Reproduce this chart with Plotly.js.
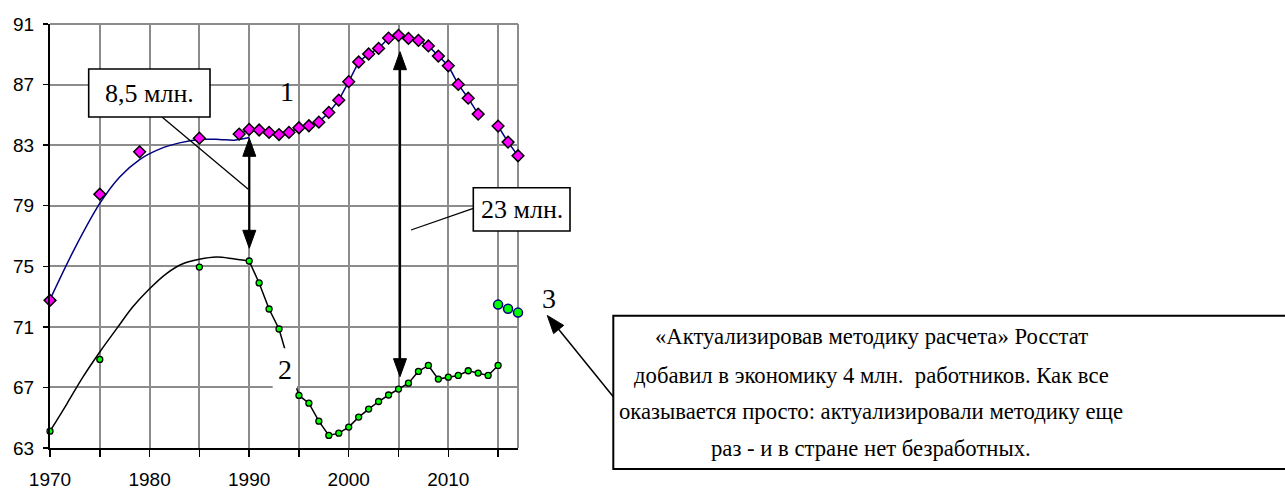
<!DOCTYPE html>
<html>
<head>
<meta charset="utf-8">
<script src="https://cdn.plot.ly/plotly-3.0.1.min.js"></script>
<style>html,body{margin:0;padding:0;background:#fff;overflow:hidden}</style>
</head>
<body>
<div id="chart" style="width:1285px;height:489px"></div>
<script>
// ---- data ----
var yearsS1Early = [1970, 1975, 1979, 1985];
var valuesS1Early = [72.75, 79.76, 82.56, 83.46];
var yearsS1 = [1989,1990,1991,1992,1993,1994,1995,1996,1997,1998,1999,2000,2001,2002,2003,2004,2005,2006,2007,2008,2009,2010,2011,2012,2013,2014,2015,2016,2017];
var valuesS1 = [83.73,84.04,84.0,83.84,83.7,83.84,84.15,84.28,84.52,85.16,85.97,87.19,88.49,89.02,89.39,90.07,90.25,90.05,89.92,89.55,88.88,88.24,87.01,86.1,85.05,null,84.26,83.2,82.3];
var yearsCurve1 = [1970, 1972.5, 1975, 1977, 1979, 1981, 1983, 1985, 1987, 1988.5, 1990];
var valuesCurve1 = [72.8, 76.2, 79.15, 80.9, 82.05, 82.74, 83.15, 83.38, 83.38, 83.33, 83.5];

var yearsS2Early = [1970, 1975, 1985];
var valuesS2Early = [64.11, 68.85, 74.95];
var yearsS2 = [1990,1991,1992,1993,1994,1995,1996,1997,1998,1999,2000,2001,2002,2003,2004,2005,2006,2007,2008,2009,2010,2011,2012,2013,2014,2015];
var valuesS2 = [75.35,73.9,72.18,70.86,68.6,66.47,65.96,64.77,63.83,63.98,64.38,65.04,65.57,66.07,66.5,66.89,67.28,68.06,68.45,67.55,67.68,67.79,68.1,67.95,67.79,68.45];
var yearsCurve2 = [1970, 1971.7, 1973.3, 1975, 1976.7, 1978.3, 1980, 1981.7, 1983.4, 1985, 1986.7, 1988.4, 1990];
var valuesCurve2 = [64.11, 65.92, 67.68, 69.34, 70.88, 72.31, 73.52, 74.52, 75.18, 75.46, 75.61, 75.5, 75.35];

var yearsS3 = [2015, 2016, 2017];
var valuesS3 = [72.47, 72.2, 71.94];

var yTicks = [63, 67, 71, 75, 79, 83, 87, 91];
var xTicks = [1970,1975,1980,1985,1990,1995,2000,2005,2010,2015];
var xTickText = ['1970','','1980','','1990','','2000','','2010',''];

// ---- layout helpers (pixel -> paper) ----
var L = 50, R = 767, T = 24, B = 41, W = 1285, H = 489;
var PW = W - L - R, PH = H - T - B;
function px(x){ return (x - L) / PW; }
function py(y){ return (H - B - y) / PH; }
function P(x,y){ return px(x).toFixed(5) + ',' + py(y).toFixed(5); }

var serif = 'Liberation Serif, Times New Roman, serif';
var sans = 'Liberation Sans, Arial, sans-serif';

var traces = [
  {x: yearsCurve1, y: valuesCurve1, mode:'lines', line:{color:'#000080', width:1.5, shape:'spline', smoothing:1}, cliponaxis:false, hoverinfo:'skip'},
  {x: yearsCurve2, y: valuesCurve2, mode:'lines', line:{color:'#000000', width:1.5, shape:'spline', smoothing:1}, cliponaxis:false, hoverinfo:'skip'},
  {x: yearsS2, y: valuesS2, mode:'lines+markers', line:{color:'#000000', width:1.5}, marker:{symbol:'circle', size:6, color:'#00ff00', line:{color:'#000000', width:1.3}}, cliponaxis:false},
  {x: yearsS2Early, y: valuesS2Early, mode:'markers', marker:{symbol:'circle', size:6, color:'#00ff00', line:{color:'#000000', width:1.3}}, cliponaxis:false},
  {x: yearsS3, y: valuesS3, mode:'markers', marker:{symbol:'circle', size:9, color:'#00ff00', line:{color:'#000080', width:1.5}}, cliponaxis:false},
  {x: yearsS1, y: valuesS1, mode:'lines+markers', connectgaps:false, line:{color:'#000080', width:1.5}, marker:{symbol:'diamond', size:9, color:'#ff00ff', line:{color:'#000000', width:1.5}}, cliponaxis:false},
  {x: yearsS1Early, y: valuesS1Early, mode:'markers', marker:{symbol:'diamond', size:9, color:'#ff00ff', line:{color:'#000000', width:1.5}}, cliponaxis:false}
];

function lineShape(x0,y0,x1,y1,w,c){
  return {type:'line', xref:'paper', yref:'paper', x0:px(x0), y0:py(y0), x1:px(x1), y1:py(y1), line:{color:c||'#000', width:w}, layer:'above'};
}
function rectShape(x0,y0,x1,y1,w,fill){
  return {type:'rect', xref:'paper', yref:'paper', x0:px(x0), y0:py(y0), x1:px(x1), y1:py(y1), line:{color:'#000', width:w}, fillcolor:fill||'#fff', layer:'above'};
}
function head(tx,ty,ux,uy,len,hw){
  var bx = tx - ux*len, by = ty - uy*len;
  var qx = -uy*hw, qy = ux*hw;
  return {type:'path', xref:'paper', yref:'paper', layer:'above',
    path:'M'+P(tx,ty)+' L'+P(bx+qx,by+qy)+' L'+P(bx-qx,by-qy)+' Z',
    fillcolor:'#000', line:{color:'#000', width:1}};
}

var shapes = [
  {type:'line', xref:'paper', yref:'paper', x0:0, y0:1, x1:1, y1:1, line:{color:'#8c8c8c', width:2}, layer:'below'},
  {type:'line', xref:'paper', yref:'paper', x0:1, y0:0, x1:1, y1:1, line:{color:'#8c8c8c', width:2}, layer:'below'},
  lineShape(249.3,152,249.3,236,2.2),
  head(249.3,138.3,0,-1,18,6.5),
  head(249.3,248.3,0,1,18,6.5),
  lineShape(400,66,400,363,2.2),
  head(400,51.7,0,-1,18,6.5),
  head(400,376.7,0,1,18,6.5),
  lineShape(162,117,248.3,189.3,1.3),
  lineShape(473.3,208.3,411,230,1.3),
  lineShape(613.3,396.7,558,328.5,1.5),
  head(547.3,315.5,-0.631,-0.777,18,6.5),
  rectShape(88.7,69,210,117,1.6),
  rectShape(473.3,187.7,570,231,1.6),
  rectShape(613.3,315.7,1300,469,2),
  {type:'rect', xref:'paper', yref:'paper', x0:px(272.7), y0:py(348.3), x1:px(297), y1:py(388.3), line:{width:0}, fillcolor:'#fff', layer:'above'}
];

function txt(x,y,t,size){
  return {xref:'paper', yref:'paper', x:px(x), y:py(y), text:t, showarrow:false, xanchor:'center', yanchor:'middle', font:{family:serif, size:size, color:'#000'}};
}

var annotations = [
  txt(149.3,93,'8,5 млн.',26),
  txt(521.7,209,'23 млн.',26),
  txt(287,92,'1',28),
  txt(284.5,369,'2',28),
  txt(548.5,298,'3',28),
  txt(871,336.7,'«Актуализировав методику расчета» Росстат',22.7),
  txt(871,375,'добавил в экономику 4 млн.&nbsp; работников. Как все',22.7),
  txt(871,411.7,'оказывается просто: актуализировали методику еще',22.7),
  txt(871,448.3,'раз - и в стране нет безработных.',22.7)
];

var layout = {
  width: W, height: H,
  margin: {l:L, r:R, t:T, b:B, pad:0},
  paper_bgcolor:'#fff', plot_bgcolor:'#fff',
  showlegend:false,
  xaxis: {range:[1970,2017], tickmode:'array', tickvals:xTicks, ticktext:xTickText,
    showgrid:true, gridcolor:'#8c8c8c', gridwidth:2, zeroline:false,
    showline:true, linecolor:'#000', linewidth:2, ticks:'outside', ticklen:7, tickwidth:1.5, tickcolor:'#000',
    ticklabelstandoff:6,
    tickfont:{family:sans, size:19, color:'#000'}, fixedrange:true},
  yaxis: {range:[63,91], tickmode:'array', tickvals:yTicks,
    showgrid:true, gridcolor:'#8c8c8c', gridwidth:2, zeroline:false,
    showline:true, linecolor:'#000', linewidth:2, ticks:'outside', ticklen:5, tickwidth:1.5, tickcolor:'#000',
    ticklabelstandoff:5,
    tickfont:{family:sans, size:19, color:'#000'}, fixedrange:true},
  shapes: shapes,
  annotations: annotations
};

Plotly.newPlot('chart', traces, layout, {staticPlot:true, displayModeBar:false});
</script>
</body>
</html>
